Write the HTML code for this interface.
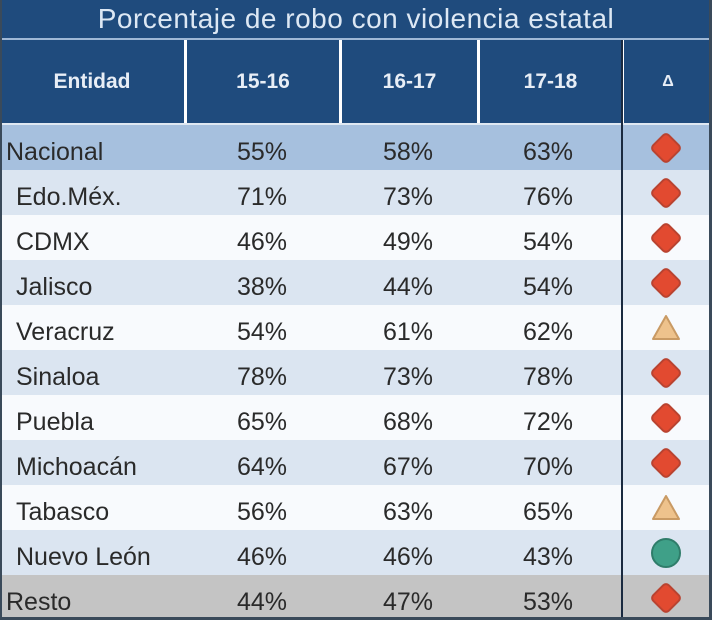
<!DOCTYPE html><html><head><style>
body{margin:0;width:712px;height:620px;overflow:hidden;background:#fff;font-family:"Liberation Sans",sans-serif;position:relative}
.t{position:absolute;left:0;top:0;width:712px;height:38px;background:#1f4b7d;color:#dde8f4;font-size:28px;text-align:center;line-height:38px;letter-spacing:0.5px}
.h{position:absolute;top:40px;height:83px;background:#1f4b7d;color:#e8eef6;font-size:21px;font-weight:bold;text-align:center;line-height:83px}
.r{position:absolute;left:0;width:712px;height:45px;font-size:25px;color:#2a2a2a}
.r span{position:absolute;top:0;line-height:54px}
.c1{left:237px}.c2{left:383px}.c3{left:523px}
.ic{position:absolute;left:653px;top:10px;width:24px;height:24px}
.d{transform:rotate(45deg);background:#e24a30;border:2px solid #b94330;border-radius:5px;width:20px;height:20px;left:654px;top:11px}
</style></head><body>
<div class="t">Porcentaje de robo con violencia estatal</div>
<div style="position:absolute;left:0;top:38px;width:712px;height:2px;background:#9fb8d6"></div>
<div class="h" style="left:0;width:184px">Entidad</div>
<div class="h" style="left:187px;width:152px">15-16</div>
<div class="h" style="left:342px;width:135px">16-17</div>
<div class="h" style="left:480px;width:141px">17-18</div>
<div class="h" style="left:624px;width:88px;font-size:16px">Δ</div>
<div style="position:absolute;left:0;top:123px;width:712px;height:2px;background:#dfe8f2"></div>

<div class="r" style="top:125px;background:#a6c0de"><span style="left:6px">Nacional</span><span class="c1">55%</span><span class="c2">58%</span><span class="c3">63%</span><div class="ic d"></div></div>
<div class="r" style="top:170px;background:#dbe5f1"><span style="left:16px">Edo.Méx.</span><span class="c1">71%</span><span class="c2">73%</span><span class="c3">76%</span><div class="ic d"></div></div>
<div class="r" style="top:215px;background:#f8fafd"><span style="left:16px">CDMX</span><span class="c1">46%</span><span class="c2">49%</span><span class="c3">54%</span><div class="ic d"></div></div>
<div class="r" style="top:260px;background:#dbe5f1"><span style="left:16px">Jalisco</span><span class="c1">38%</span><span class="c2">44%</span><span class="c3">54%</span><div class="ic d"></div></div>
<div class="r" style="top:305px;background:#f8fafd"><span style="left:16px">Veracruz</span><span class="c1">54%</span><span class="c2">61%</span><span class="c3">62%</span><svg class="ic" style="left:651px;width:30px;height:28px;top:9px" viewBox="0 0 30 28"><path d="M15 2 L28 25 L2 25 Z" fill="#eec28c" stroke="#c99a64" stroke-width="2" stroke-linejoin="round"/></svg></div>
<div class="r" style="top:350px;background:#dbe5f1"><span style="left:16px">Sinaloa</span><span class="c1">78%</span><span class="c2">73%</span><span class="c3">78%</span><div class="ic d"></div></div>
<div class="r" style="top:395px;background:#f8fafd"><span style="left:16px">Puebla</span><span class="c1">65%</span><span class="c2">68%</span><span class="c3">72%</span><div class="ic d"></div></div>
<div class="r" style="top:440px;background:#dbe5f1"><span style="left:16px">Michoacán</span><span class="c1">64%</span><span class="c2">67%</span><span class="c3">70%</span><div class="ic d"></div></div>
<div class="r" style="top:485px;background:#f8fafd"><span style="left:16px">Tabasco</span><span class="c1">56%</span><span class="c2">63%</span><span class="c3">65%</span><svg class="ic" style="left:651px;width:30px;height:28px;top:9px" viewBox="0 0 30 28"><path d="M15 2 L28 25 L2 25 Z" fill="#eec28c" stroke="#c99a64" stroke-width="2" stroke-linejoin="round"/></svg></div>
<div class="r" style="top:530px;background:#dbe5f1"><span style="left:16px">Nuevo León</span><span class="c1">46%</span><span class="c2">46%</span><span class="c3">43%</span><div class="ic" style="border-radius:50%;background:#3fa088;border:2px solid #2f7d6a;left:651px;top:8px;width:26px;height:26px"></div></div>
<div class="r" style="top:575px;background:#c4c4c4"><span style="left:6px">Resto</span><span class="c1">44%</span><span class="c2">47%</span><span class="c3">53%</span><div class="ic d"></div></div>

<div style="position:absolute;left:621px;top:40px;width:2px;height:580px;background:#1a2a40"></div>
<div style="position:absolute;left:0;top:0;width:2px;height:620px;background:#3a4a5a"></div>
<div style="position:absolute;left:709px;top:0;width:3px;height:620px;background:#3a4a5a"></div>
<div style="position:absolute;left:0;top:617px;width:712px;height:3px;background:#3a4a5a"></div>
</body></html>
